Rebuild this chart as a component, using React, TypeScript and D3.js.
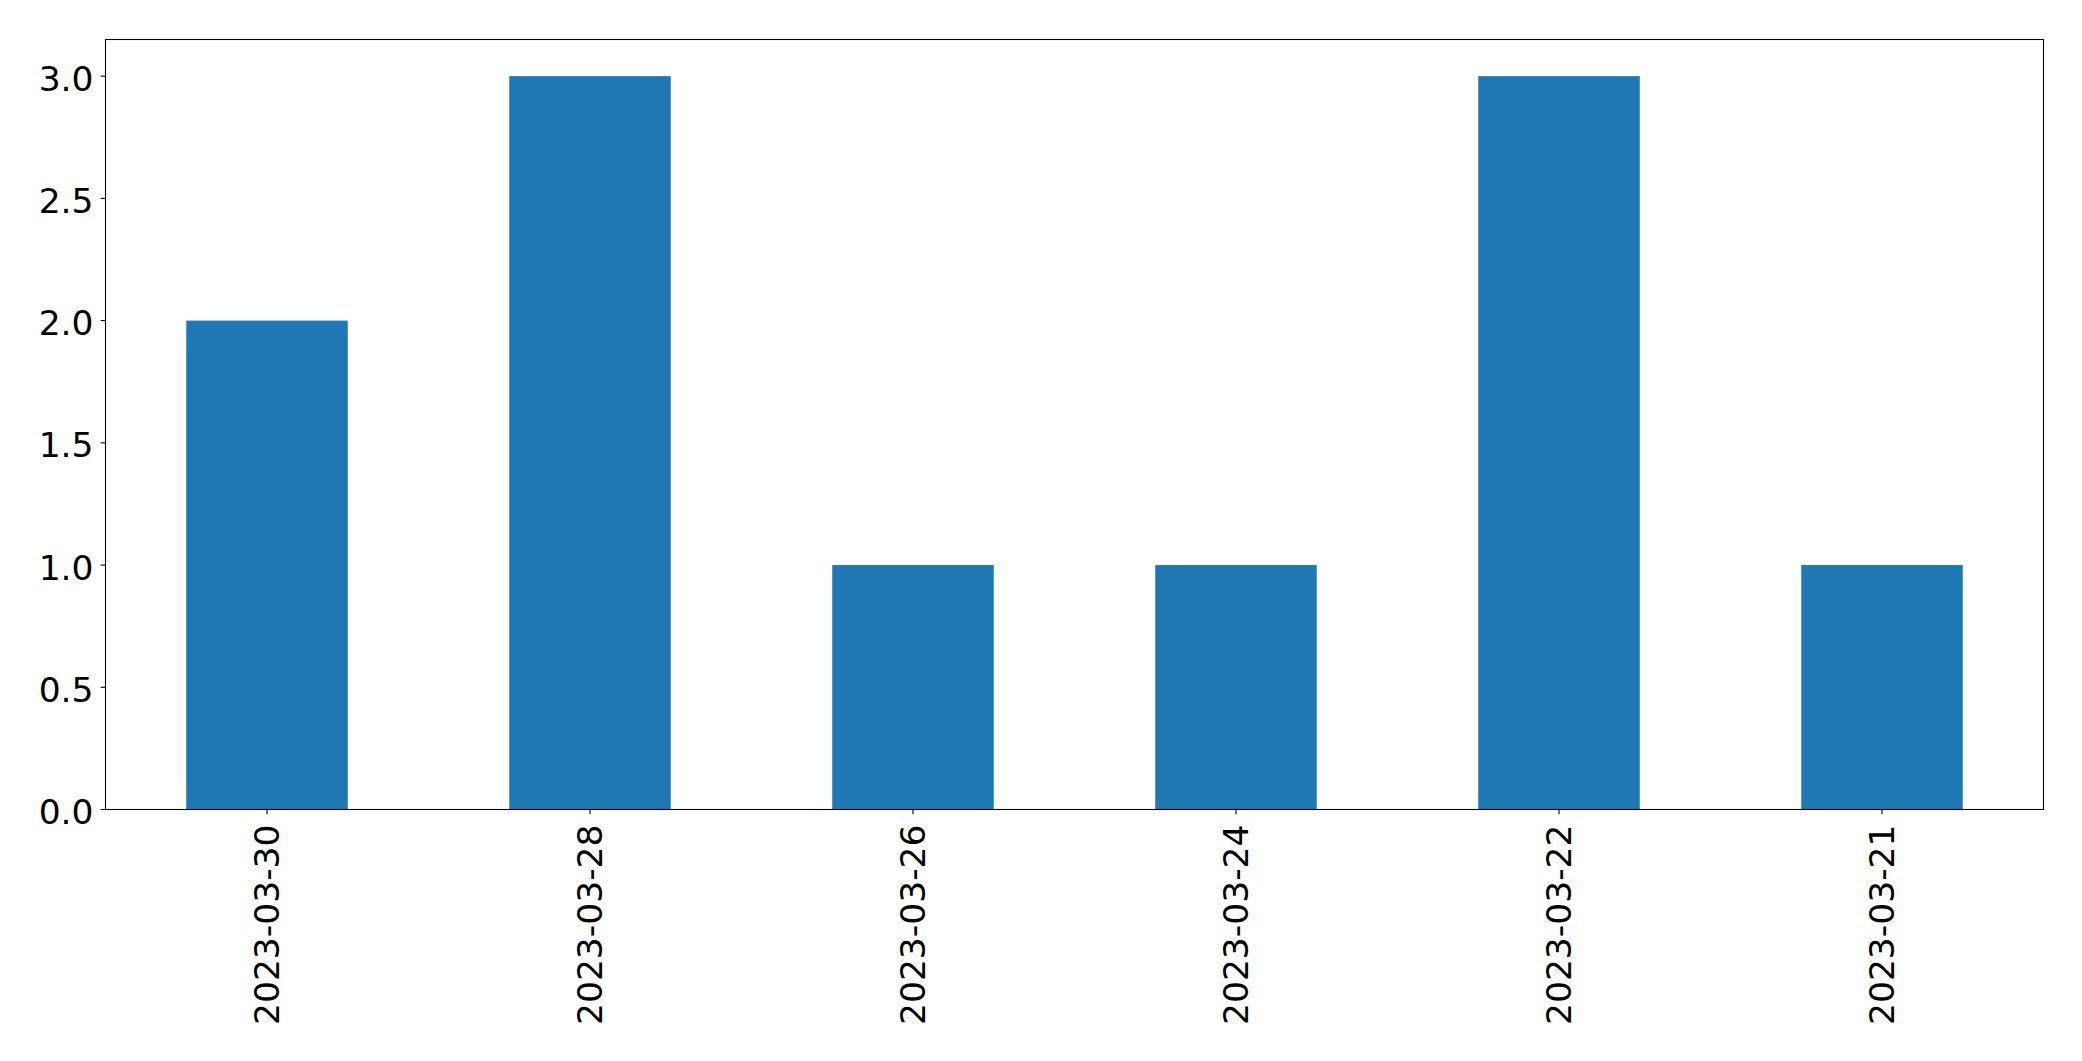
import React from "react";
import * as d3 from "d3";

const categories = ["2023-03-30", "2023-03-28", "2023-03-26", "2023-03-24", "2023-03-22", "2023-03-21"];
const values = [2, 3, 1, 1, 3, 1];
const yTicks = [0, 0.5, 1, 1.5, 2, 2.5, 3];

const W = 2082;
const H = 1061;
const L = 105.5, R = 2043.5, T = 39.5, B = 809.5;
const FONT = "'DejaVu Sans', sans-serif";
const FS = 34.5;

export default function App() {
  const x = d3.scaleLinear().domain([-0.5, categories.length - 0.5]).range([L, R]);
  const y = d3.scaleLinear().domain([0, 3.15]).range([B, T]);
  const bw = x(0.5) - x(0);
  return (
    <svg width={W} height={H} style={{ position: "absolute", left: 0, top: 0 }}>
      <rect x={0} y={0} width={W} height={H} fill="#fff" />
      {values.map((v, i) => (
        <rect key={i} x={x(i) - bw / 2} y={y(v)} width={bw} height={y(0) - y(v)} fill="#1f77b4" />
      ))}
      <rect x={L} y={T} width={R - L} height={B - T} fill="none" stroke="#000" strokeWidth={1.1} />
      {yTicks.map((t) => (
        <g key={t}>
          <line x1={L - 4.86} x2={L} y1={y(t)} y2={y(t)} stroke="#000" strokeWidth={1.1} />
          <text x={L - 12} y={y(t)} dy="0.42em" textAnchor="end" fontFamily={FONT} fontSize={FS} fill="#000">
            {t.toFixed(1)}
          </text>
        </g>
      ))}
      {categories.map((c, i) => (
        <g key={c}>
          <line x1={x(i)} x2={x(i)} y1={B} y2={B + 4.86} stroke="#000" strokeWidth={1.1} />
          <text
            transform={`translate(${x(i)},${B + 15}) rotate(-90)`}
            dy="0.36em"
            textAnchor="end"
            fontFamily={FONT}
            fontSize={FS}
            fill="#000"
          >
            {c}
          </text>
        </g>
      ))}
    </svg>
  );
}
